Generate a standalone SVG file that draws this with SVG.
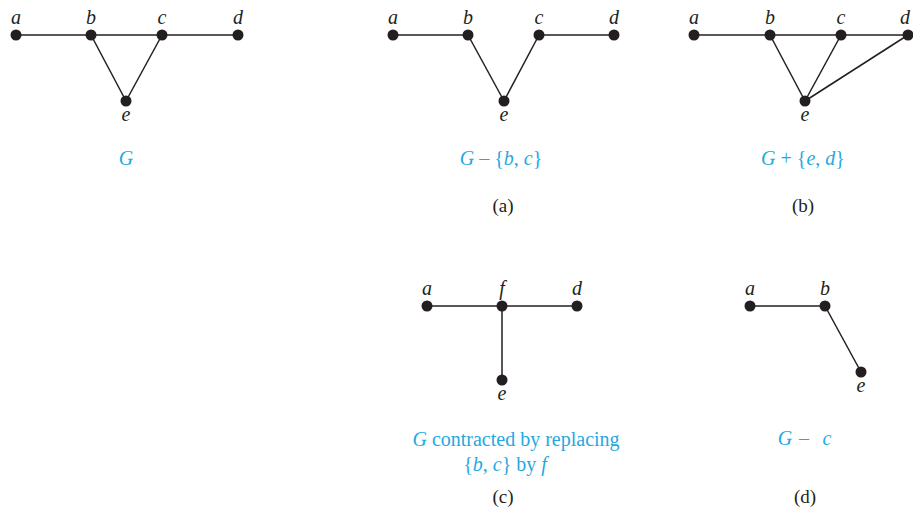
<svg xmlns="http://www.w3.org/2000/svg" width="913" height="509" viewBox="0 0 913 509">
<style>
.edge{stroke:#231f20;stroke-width:1.5;fill:none}
.node{fill:#231f20}
.lbl{font-family:"Liberation Serif",serif;font-style:italic;font-size:20px;fill:#231f20;text-anchor:middle}
.cap{font-family:"Liberation Serif",serif;font-size:20px;fill:#1fa9e1;text-anchor:middle}
.cap .i{font-style:italic}
.sub{font-family:"Liberation Serif",serif;font-size:19px;fill:#231f20;text-anchor:middle}
</style>
<rect width="913" height="509" fill="#fff"/>
<g id="connectors">
<line class="edge" x1="16" y1="35" x2="238" y2="35"/>
<line class="edge" x1="91" y1="35" x2="126" y2="101"/>
<line class="edge" x1="162" y1="35" x2="126" y2="101"/>
<line class="edge" x1="393" y1="35" x2="468" y2="35"/>
<line class="edge" x1="539" y1="35" x2="614" y2="35"/>
<line class="edge" x1="468" y1="35" x2="504" y2="101"/>
<line class="edge" x1="539" y1="35" x2="504" y2="101"/>
<line class="edge" x1="694" y1="35" x2="908" y2="35"/>
<line class="edge" x1="770" y1="35" x2="805" y2="101"/>
<line class="edge" x1="841" y1="35" x2="805" y2="101"/>
<line class="edge" x1="805" y1="101" x2="908" y2="35"/>
<line class="edge" x1="427" y1="306" x2="577" y2="306"/>
<line class="edge" x1="502" y1="306" x2="502" y2="380"/>
<line class="edge" x1="750" y1="306" x2="825" y2="306"/>
<line class="edge" x1="825" y1="306" x2="861" y2="372"/>
</g>
<g id="G">
<g id="G-a"><circle class="node" cx="16" cy="35" r="5.5"/><text class="lbl" x="16" y="24">a</text></g>
<g id="G-b"><circle class="node" cx="91" cy="35" r="5.5"/><text class="lbl" x="91" y="24">b</text></g>
<g id="G-c"><circle class="node" cx="162" cy="35" r="5.5"/><text class="lbl" x="162" y="24">c</text></g>
<g id="G-d"><circle class="node" cx="238" cy="35" r="5.5"/><text class="lbl" x="238" y="24">d</text></g>
<g id="G-e"><circle class="node" cx="126" cy="101" r="5.5"/><text class="lbl" x="126" y="121">e</text></g>
<text class="cap" x="126" y="165"><tspan class="i">G</tspan></text>
</g>
<g id="A">
<g id="A-a"><circle class="node" cx="393" cy="35" r="5.5"/><text class="lbl" x="393" y="24">a</text></g>
<g id="A-b"><circle class="node" cx="468" cy="35" r="5.5"/><text class="lbl" x="468" y="24">b</text></g>
<g id="A-c"><circle class="node" cx="539" cy="35" r="5.5"/><text class="lbl" x="539" y="24">c</text></g>
<g id="A-d"><circle class="node" cx="614" cy="35" r="5.5"/><text class="lbl" x="614" y="24">d</text></g>
<g id="A-e"><circle class="node" cx="504" cy="101" r="5.5"/><text class="lbl" x="504" y="121">e</text></g>
<text class="cap" x="501" y="165"><tspan class="i">G</tspan> – {<tspan class="i">b</tspan>, <tspan class="i">c</tspan>}</text>
<text class="sub" x="503" y="212">(a)</text>
</g>
<g id="B">
<g id="B-a"><circle class="node" cx="694" cy="35" r="5.5"/><text class="lbl" x="694" y="24">a</text></g>
<g id="B-b"><circle class="node" cx="770" cy="35" r="5.5"/><text class="lbl" x="770" y="24">b</text></g>
<g id="B-c"><circle class="node" cx="841" cy="35" r="5.5"/><text class="lbl" x="841" y="24">c</text></g>
<g id="B-d"><circle class="node" cx="908" cy="35" r="5.5"/><text class="lbl" x="905" y="24">d</text></g>
<g id="B-e"><circle class="node" cx="805" cy="101" r="5.5"/><text class="lbl" x="805" y="121">e</text></g>
<text class="cap" x="803" y="165"><tspan class="i">G</tspan> + {<tspan class="i">e</tspan>, <tspan class="i">d</tspan>}</text>
<text class="sub" x="803" y="212">(b)</text>
</g>
<g id="C">
<g id="C-a"><circle class="node" cx="427" cy="306" r="5.5"/><text class="lbl" x="427" y="295">a</text></g>
<g id="C-f"><circle class="node" cx="502" cy="306" r="5.5"/><text class="lbl" x="502" y="295">f</text></g>
<g id="C-d"><circle class="node" cx="577" cy="306" r="5.5"/><text class="lbl" x="577" y="295">d</text></g>
<g id="C-e"><circle class="node" cx="502" cy="380" r="5.5"/><text class="lbl" x="502" y="400">e</text></g>
<text class="cap" x="516" y="446"><tspan class="i">G</tspan> contracted by replacing</text>
<text class="cap" x="505" y="471">{<tspan class="i">b</tspan>, <tspan class="i">c</tspan>} by <tspan class="i">f</tspan></text>
<text class="sub" x="503" y="503">(c)</text>
</g>
<g id="D">
<g id="D-a"><circle class="node" cx="750" cy="306" r="5.5"/><text class="lbl" x="750" y="295">a</text></g>
<g id="D-b"><circle class="node" cx="825" cy="306" r="5.5"/><text class="lbl" x="825" y="295">b</text></g>
<g id="D-e"><circle class="node" cx="861" cy="372" r="5.5"/><text class="lbl" x="861" y="392">e</text></g>
<text class="cap" x="805" y="445"><tspan class="i" x="785">G</tspan><tspan x="804">–</tspan><tspan class="i" x="827">c</tspan></text>
<text class="sub" x="805" y="503">(d)</text>
</g>
</svg>
